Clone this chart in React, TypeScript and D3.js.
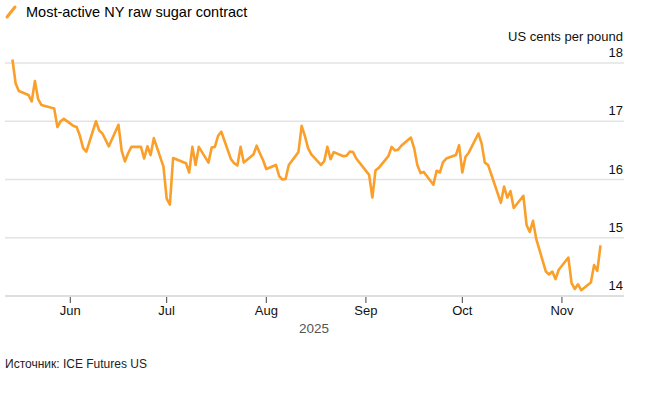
import React from 'react';
import * as d3 from 'd3';

// trading days
const tradeDates = [
  '2025-05-14', '2025-05-15', '2025-05-16', '2025-05-19', '2025-05-20', '2025-05-21', '2025-05-22', '2025-05-23',
  '2025-05-27', '2025-05-28', '2025-05-29', '2025-05-30',
  '2025-06-02', '2025-06-03', '2025-06-04', '2025-06-05', '2025-06-06',
  '2025-06-09', '2025-06-10', '2025-06-11', '2025-06-12', '2025-06-13',
  '2025-06-16', '2025-06-17', '2025-06-18', '2025-06-19', '2025-06-20',
  '2025-06-23', '2025-06-24', '2025-06-25', '2025-06-26', '2025-06-27',
  '2025-06-30', '2025-07-01', '2025-07-02', '2025-07-03',
  '2025-07-07', '2025-07-08', '2025-07-09', '2025-07-10', '2025-07-11',
  '2025-07-14', '2025-07-15', '2025-07-16', '2025-07-17', '2025-07-18',
  '2025-07-21', '2025-07-22', '2025-07-23', '2025-07-24', '2025-07-25',
  '2025-07-28', '2025-07-29', '2025-07-30', '2025-07-31', '2025-08-01',
  '2025-08-04', '2025-08-05', '2025-08-06', '2025-08-07', '2025-08-08',
  '2025-08-11', '2025-08-12', '2025-08-13', '2025-08-14', '2025-08-15',
  '2025-08-18', '2025-08-19', '2025-08-20', '2025-08-21', '2025-08-22',
  '2025-08-25', '2025-08-26', '2025-08-27', '2025-08-28', '2025-08-29',
  '2025-09-02', '2025-09-03', '2025-09-04', '2025-09-05',
  '2025-09-08', '2025-09-09', '2025-09-10', '2025-09-11', '2025-09-12',
  '2025-09-15', '2025-09-16', '2025-09-17', '2025-09-18', '2025-09-19',
  '2025-09-22', '2025-09-23', '2025-09-24', '2025-09-25', '2025-09-26',
  '2025-09-29', '2025-09-30', '2025-10-01', '2025-10-02', '2025-10-03',
  '2025-10-06', '2025-10-07', '2025-10-08', '2025-10-09', '2025-10-10',
  '2025-10-13', '2025-10-14', '2025-10-15', '2025-10-16', '2025-10-17',
  '2025-10-20', '2025-10-21', '2025-10-22', '2025-10-23', '2025-10-24',
  '2025-10-27', '2025-10-28', '2025-10-29', '2025-10-30', '2025-10-31',
  '2025-11-03', '2025-11-04', '2025-11-05', '2025-11-06', '2025-11-07',
  '2025-11-10', '2025-11-11', '2025-11-12', '2025-11-13',
];

// US cents per pound
const prices = [
  18.06, 17.65, 17.52, 17.45, 17.34, 17.69, 17.38, 17.28,
  17.22, 16.90, 17.00, 17.04,
  16.92, 16.90, 16.75, 16.54, 16.48,
  17.00, 16.84, 16.79, 16.68, 16.57,
  16.94, 16.49, 16.31, 16.45, 16.56,
  16.56, 16.36, 16.57, 16.42, 16.71,
  16.22, 15.67, 15.57, 16.37,
  16.28, 16.12, 16.56, 16.25, 16.56,
  16.29, 16.55, 16.56, 16.75, 16.82,
  16.35, 16.28, 16.24, 16.56, 16.29,
  16.43, 16.58, 16.45, 16.33, 16.18,
  16.25, 16.06, 16.00, 16.01, 16.25,
  16.47, 16.92, 16.75, 16.54, 16.43,
  16.25, 16.31, 16.56, 16.35, 16.47,
  16.40, 16.41, 16.48, 16.47, 16.36,
  16.08, 15.69, 16.16, 16.20,
  16.40, 16.56, 16.50, 16.51, 16.58,
  16.72, 16.54, 16.25, 16.11, 16.13,
  15.91, 16.15, 16.12, 16.30, 16.36,
  16.42, 16.59, 16.12, 16.39, 16.46,
  16.79, 16.62, 16.29, 16.25, 16.09,
  15.60, 15.88, 15.69, 15.80, 15.51,
  15.72, 15.22, 15.10, 15.29, 14.98,
  14.42, 14.37, 14.42, 14.29, 14.45,
  14.66, 14.22, 14.12, 14.20, 14.10,
  14.23, 14.53, 14.43, 14.87,
];

const yTicks = [14, 15, 16, 17, 18];
const title = 'Most-active NY raw sugar contract';
const unitLabel = 'US cents per pound';
const yearLabel = '2025';
const sourceLabel = 'Источник: ICE Futures US';

const W = 646;
const H = 397;
const ORANGE = '#fb9f2b';
const FONT = '"Liberation Sans", Arial, Helvetica, sans-serif';

const parse = d3.utcParse('%Y-%m-%d');

export default function App() {
  const data = tradeDates.map((d, i) => ({ date: parse(d) as Date, value: prices[i] }));

  const x = d3.scaleUtc()
    .domain([new Date(Date.UTC(2025, 4, 12)), new Date(Date.UTC(2025, 10, 20))])
    .range([6, 623]);
  const y = d3.scaleLinear().domain([14, 18]).range([296, 63]);

  const line = d3.line<{ date: Date; value: number }>()
    .x(d => x(d.date))
    .y(d => y(d.value))
    .curve(d3.curveLinear);

  const months = d3.utcMonth.range(new Date(Date.UTC(2025, 5, 1)), new Date(Date.UTC(2025, 11, 1)));
  const fmt = d3.utcFormat('%b');
  const gridLeft = 5;
  const gridRight = 624;

  return (
    <svg width={W} height={H} style={{ position: 'absolute', left: 0, top: 0, background: '#fff' }} fontFamily={FONT}>
      {/* legend */}
      <line x1={7} y1={17} x2={15} y2={7} stroke={ORANGE} strokeWidth={3} strokeLinecap="round" />
      <text x={26} y={17} fontSize={14.5} fill="#000">{title}</text>

      {/* grid */}
      {yTicks.filter(t => t > 14).map(t => (
        <line key={t} x1={gridLeft} x2={gridRight} y1={y(t)} y2={y(t)} stroke="#e3e3e3" strokeWidth={1.5} />
      ))}
      {yTicks.map(t => (
        <text key={'l' + t} x={623} y={y(t) - 6} textAnchor="end" fontSize={13} fill="#111">{t}</text>
      ))}
      <text x={623} y={41} textAnchor="end" fontSize={13} fill="#111">{unitLabel}</text>

      {/* data line */}
      <path d={line(data) ?? ''} fill="none" stroke={ORANGE} strokeWidth={2.6} strokeLinejoin="round" />

      {/* x axis */}
      <line x1={gridLeft} x2={gridRight} y1={y(14)} y2={y(14)} stroke="#dedede" strokeWidth={2} />
      {months.map(m => (
        <g key={m.toISOString()} transform={`translate(${x(m)},0)`}>
          <line y1={297} y2={303} stroke="#444" strokeWidth={1} />
          <text y={315} textAnchor="middle" fontSize={13} fill="#111">{fmt(m)}</text>
        </g>
      ))}
      <text x={314} y={333} textAnchor="middle" fontSize={13.5} fill="#555">{yearLabel}</text>

      <text x={5} y={368} fontSize={12} fill="#222">{sourceLabel}</text>
    </svg>
  );
}
